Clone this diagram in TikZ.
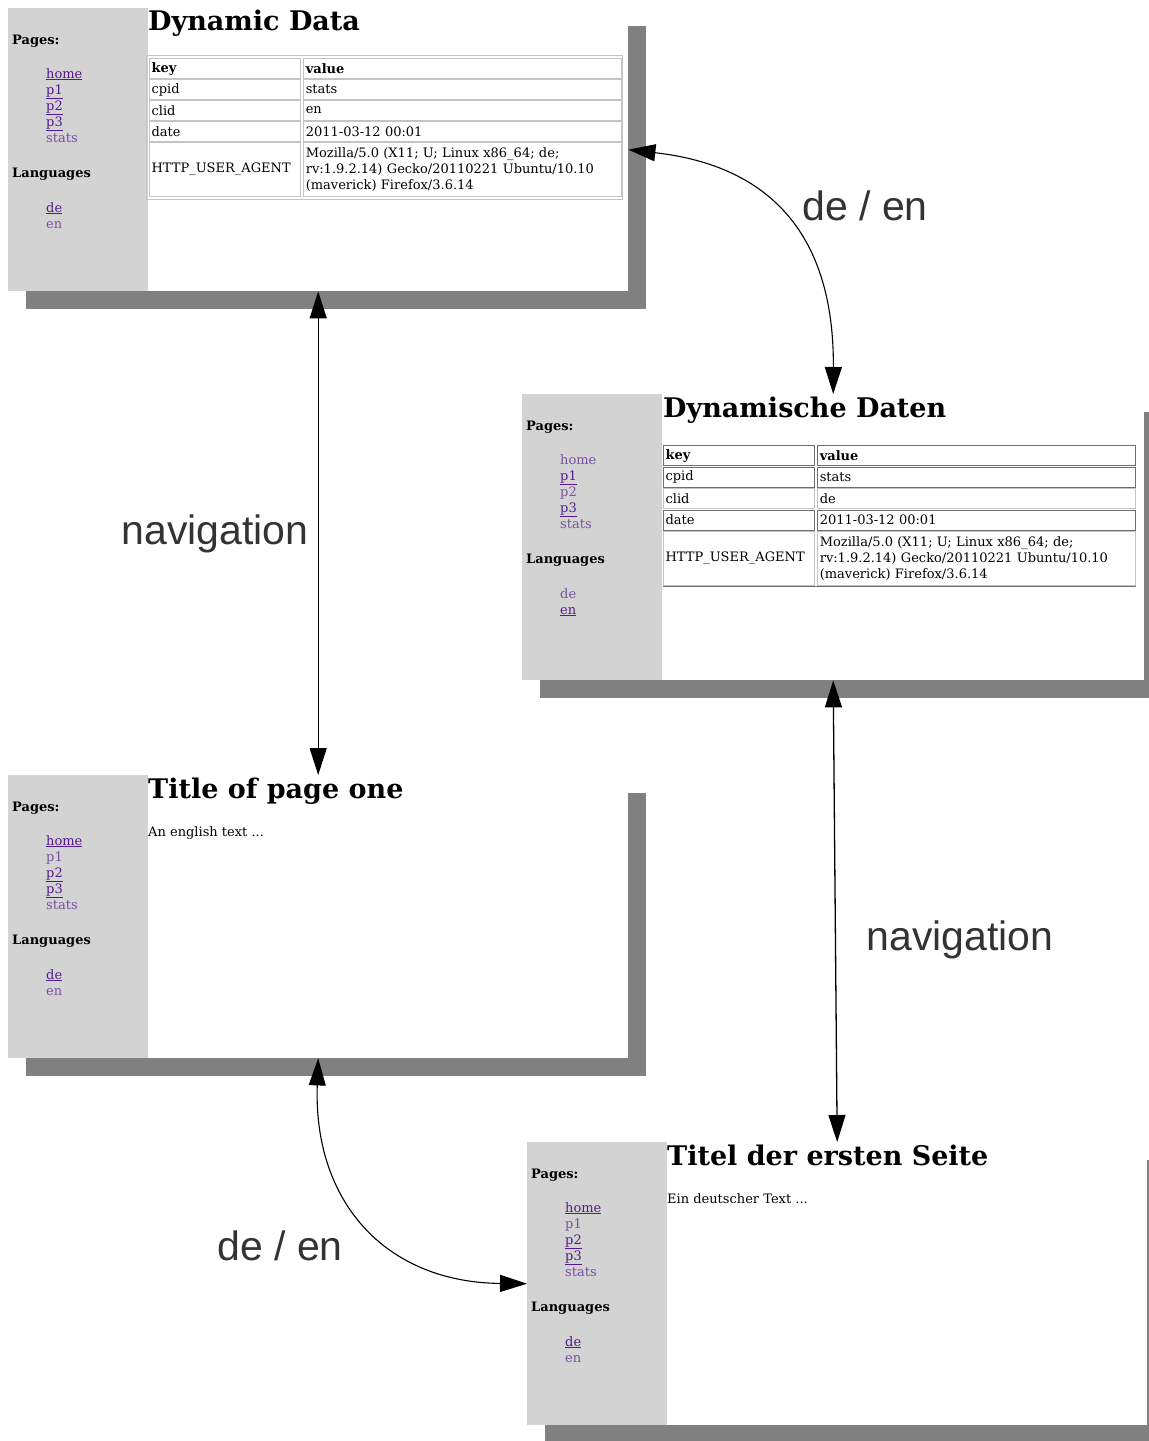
\documentclass[tikz,border=0pt]{standalone}
\usepackage{fontspec}
\setmainfont{DejaVu Serif}
\newfontfamily\labelfont{Liberation Sans}
\usetikzlibrary{calc}
\usetikzlibrary{arrows.meta}
\usetikzlibrary{positioning}
\usetikzlibrary{shadows}

\definecolor{sidegray}{RGB}{211,211,211}
\definecolor{shadowgray}{RGB}{128,128,128}
\definecolor{linkvis}{RGB}{85,26,139}
\definecolor{linkcur}{RGB}{120,80,160}
\definecolor{labelgray}{RGB}{51,51,51}
\definecolor{cellgray}{RGB}{195,195,195}
\definecolor{darkcell}{RGB}{110,110,110}

\newcommand\lnk[1]{\textcolor{linkvis}{\underline{#1}}}
\newcommand\cur[1]{\textcolor{linkcur}{#1}}
\newcommand\useragent{Mozilla/5.0 (X11; U; Linux x86\_64; de;\\ rv:1.9.2.14) Gecko/20110221 Ubuntu/10.10\\ (maverick) Firefox/3.6.14}

\begin{document}
\begin{tikzpicture}[x=1pt,y=-1pt,>={Triangle[length=27pt,width=17pt]},
    page/.style={rectangle, fill=white, inner sep=0pt, anchor=north west, minimum width=620pt, minimum height=283pt,
      drop shadow={shadow xshift=18pt, shadow yshift=-18pt, fill=shadowgray, opacity=1}},
    side/.style={anchor=base west, inner sep=0pt, font=\bfseries},
    item/.style={anchor=base west, inner sep=0pt},
    title/.style={anchor=base west, inner sep=0pt, font=\fontsize{27}{27}\selectfont\bfseries},
    body/.style={anchor=base west, inner sep=0pt},
    cell/.style={draw=cellgray, line width=1.2pt, anchor=north west, inner xsep=2pt, inner ysep=0pt, minimum height=20pt, align=left},
    keycol/.style={text width=147pt},
    valcol/.style={text width=314pt},
    lbl/.style={font=\labelfont\fontsize{41}{41}\selectfont, text=labelgray, inner sep=0pt, anchor=base}]
    \fontsize{13}{16}\selectfont
    \useasboundingbox (0,0) rectangle (1149,1441);
    \clip (0,0) rectangle (1149,1441);

    % pages
    \node[page] (dyn) at (8,8) {};
    \node[page, minimum width=622pt, minimum height=286pt] (dynde) at (522,394) {};
    \node[page] (pone) at (8,775) {};
    \node[page] (titelde) at (527,1142) {};
    \foreach \p in {dyn,dynde,pone,titelde}
      \fill[sidegray] (\p.north west) rectangle ($(\p.south west)+(140,0)$);

    % sidebars
    \foreach \p/\a/\b/\c/\d/\e/\f/\g in {dyn/\lnk/\lnk/\lnk/\lnk/\cur/\lnk/\cur,
        dynde/\cur/\lnk/\cur/\lnk/\cur/\cur/\lnk,
        pone/\lnk/\cur/\lnk/\lnk/\cur/\lnk/\cur,
        titelde/\lnk/\cur/\lnk/\lnk/\cur/\lnk/\cur} {
      \node[side] (\p-pages) at ($(\p.north west)+(4,36)$) {Pages:};
      \node[item] (\p-p1) at ($(\p.north west)+(38,70)$) {\a{home}};
      \node[item] (\p-p2) at ($(\p.north west)+(38,86)$) {\b{p1}};
      \node[item] (\p-p3) at ($(\p.north west)+(38,102)$) {\c{p2}};
      \node[item] (\p-p4) at ($(\p.north west)+(38,118)$) {\d{p3}};
      \node[item] (\p-p5) at ($(\p.north west)+(38,134)$) {\e{stats}};
      \node[side] (\p-lang) at ($(\p.north west)+(4,169)$) {Languages};
      \node[item] (\p-l1) at ($(\p.north west)+(38,204)$) {\f{de}};
      \node[item] (\p-l2) at ($(\p.north west)+(38,220)$) {\g{en}};
    }

    % titles and texts
    \node[title] (dyn-title) at ($(dyn.north west)+(140,22.5)$) {Dynamic Data};
    \node[title] (dynde-title) at ($(dynde.north west)+(141,23)$) {Dynamische Daten};
    \node[title] (pone-title) at ($(pone.north west)+(140,23)$) {Title of page one};
    \node[title] (titelde-title) at ($(titelde.north west)+(140,23)$) {Titel der ersten Seite};
    \node[body] (pone-text) at ($(pone.north west)+(140,61)$) {An english text ...};
    \node[body] (titelde-text) at ($(titelde.north west)+(140,61)$) {Ein deutscher Text ...};

    % table, english
    \draw[cellgray] ($(dyn.north west)+(138,47)$) rectangle ($(dyn.north west)+(614,191)$);
    \node[cell, keycol, font=\bfseries] (dyn-k0) at ($(dyn.north west)+(141,50)$) {key};
    \node[cell, valcol, font=\bfseries, right=2pt of dyn-k0] (dyn-v0) {value};
    \foreach \k/\v [count=\i] in {cpid/stats, clid/en, date/2011-03-12 00:01} {
      \node[cell, keycol] (dyn-k\i) at ($(dyn.north west)+(141,50+21*\i)$) {\k};
      \node[cell, valcol, right=2pt of dyn-k\i] (dyn-v\i) {\v};
    }
    \node[cell, keycol, minimum height=54pt] (dyn-k4) at ($(dyn.north west)+(141,134)$) {HTTP\_USER\_AGENT};
    \node[cell, valcol, minimum height=54pt, right=2pt of dyn-k4] (dyn-v4) {\useragent};

    % table, german
    \node[cell, keycol, draw=darkcell, font=\bfseries] (dynde-k0) at ($(dynde.north west)+(141,51)$) {key};
    \node[cell, valcol, draw=darkcell, font=\bfseries, right=2pt of dynde-k0] (dynde-v0) {value};
    \foreach \k/\v/\c [count=\i] in {cpid/stats/darkcell, clid/de/cellgray, date/2011-03-12 00:01/darkcell} {
      \node[cell, keycol, draw=\c] (dynde-k\i) at ($(dynde.north west)+(141,51+21.5*\i)$) {\k};
      \node[cell, valcol, draw=\c, right=2pt of dynde-k\i] (dynde-v\i) {\v};
    }
    \node[cell, keycol, minimum height=54pt] (dynde-k4) at ($(dynde.north west)+(141,137)$) {HTTP\_USER\_AGENT};
    \node[cell, valcol, minimum height=54pt, right=2pt of dynde-k4] (dynde-v4) {\useragent};
    \draw[darkcell, line width=1.2pt] (dynde-k4.south west) -- (dynde-v4.south east);

    % connectors
    \draw[<->, line width=1.3pt] (dyn.south) -- (pone.north);
    \draw[<->, line width=1.3pt] (dynde.south) -- (titelde.north);
    \draw[<->, line width=1.1pt] (dyn.east) .. controls +(142,16) and +(1,-159) .. (dynde.north);
    \draw[<->, line width=1.1pt] (pone.south) .. controls +(-5,143) and +(-142,-1.5) .. (titelde.west);

    % labels
    \node[lbl] (nav-en) at (215,544) {navigation};
    \node[lbl] (nav-de) at (960,950) {navigation};
    \node[lbl] (lang-top) at (865,220) {de / en};
    \node[lbl] (lang-bot) at (280,1260) {de / en};
\end{tikzpicture}
\end{document}
